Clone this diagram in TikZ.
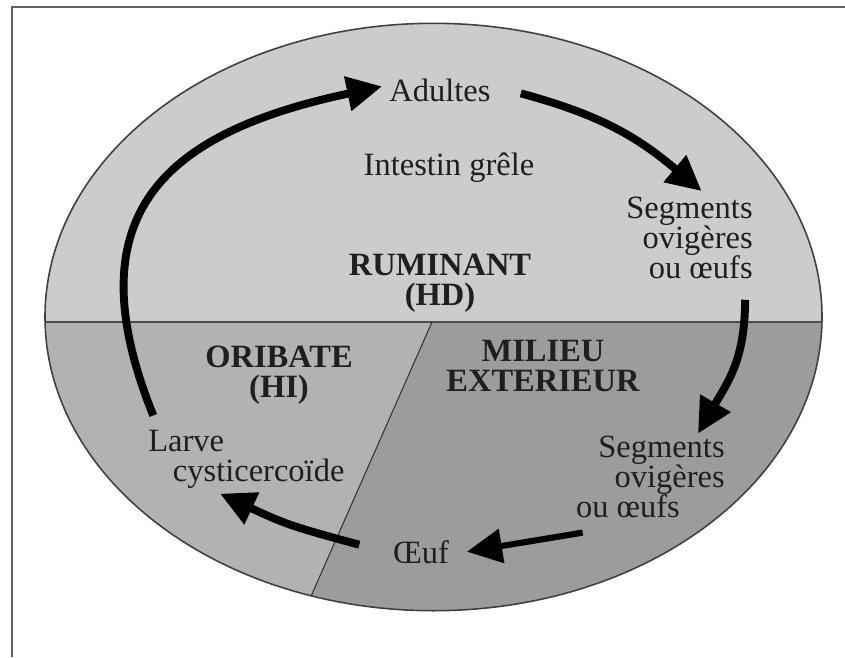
\documentclass[tikz,border=0pt]{standalone}
\usepackage{fontspec}
\setmainfont{Liberation Serif}
\usetikzlibrary{arrows.meta}
\newcommand{\lblfont}{\fontsize{18.5}{17}\selectfont\lineskiplimit=-20pt\relax}

\begin{document}
\begin{tikzpicture}[x=0.02cm,y=-0.02cm,
  lbl/.style={inner sep=0pt,font=\lblfont,text=black!88},
  hdr/.style={lbl,font=\lblfont\bfseries,align=center},
  cyc/.style={-{Triangle[length=20pt,width=19pt]},line width=4.5pt}]
% picture drawn in pixel units, y grows downwards
\useasboundingbox (0,0) rectangle (845,657);
\draw[black!62,line width=1.3pt] (12,657) -- (12,7) -- (845,7);      % frame, cut by the page
% --- the three hosts / places ---
\begin{scope}
  \clip (433.5,317) ellipse [x radius=388.5,y radius=293.7];
  \fill[black!20] (0,0) rectangle (845,322);                                   % ruminant
  \fill[black!30] (0,322) -- (432,322) -- (289.5,645) -- (0,645) -- cycle;     % oribate
  \fill[black!39] (432,322) -- (845,322) -- (845,645) -- (289.5,645) -- cycle; % outside
  \draw[black!70,line width=1.1pt] (0,322) -- (845,322);
  \draw[black!80,line width=0.6pt] (432,322) -- (289.5,645);
\end{scope}
\draw[black!75,line width=0.9pt] (433.5,317) ellipse [x radius=388.5,y radius=293.7];
% --- labels (multi-line ones sit on their last baseline) ---
\node[lbl,anchor=base] (adultes) at (440,101) {Adultes};
\node[lbl,anchor=base] (intestin) at (449,175) {Intestin grêle};
\node[lbl,anchor=base east,align=right] (useg) at (753,278) {Segments\\ovigères\\ou œufs};
\node[hdr,anchor=base] (ruminant) at (440,305) {RUMINANT\\(HD)};
\node[hdr,anchor=base] (oribate) at (279,397) {ORIBATE\\(HI)};
\node[hdr,anchor=base] (milieu) at (543,391) {MILIEU\\EXTERIEUR};
\node[lbl,anchor=base west,align=left] (larve) at (148,481) {Larve\\\hspace*{14pt}cysticercoïde};
\node[lbl,anchor=base east,align=right] (lseg) at (725,517)
  {Segments\\ovigères\hspace*{12.5pt}\\ou œufs\hspace*{25.5pt}};
\node[lbl,anchor=base] (oeuf) at (421,563) {Œuf};
% --- life cycle ---
\draw[cyc] ([shift={(3pt,8pt)}]larve.north west)
  .. controls +(112:125pt) and +(192:125pt) .. ([shift={(-4pt,2pt)}]adultes.west);
\draw[cyc] ([shift={(17pt,-2pt)}]adultes.east)
  .. controls +(-15:50pt) and +(140:45pt) .. ([shift={(7pt,3pt)}]useg.north);
\draw[cyc] ([shift={(-4.5pt,-12pt)}]useg.south east)
  .. controls +(-90:34pt) and +(60:34pt) .. ([shift={(-15.4pt,1pt)}]lseg.north east);
\draw[cyc,line width=3.5pt] ([shift={(4pt,-8.5pt)}]lseg.south west) -- ([xshift=10pt]oeuf.east);
\draw[cyc] ([shift={(-19pt,4pt)}]oeuf.west)
  .. controls +(165:40pt) and +(-25:40pt) .. ([shift={(-15pt,-3pt)}]larve.south);
\end{tikzpicture}
\end{document}
